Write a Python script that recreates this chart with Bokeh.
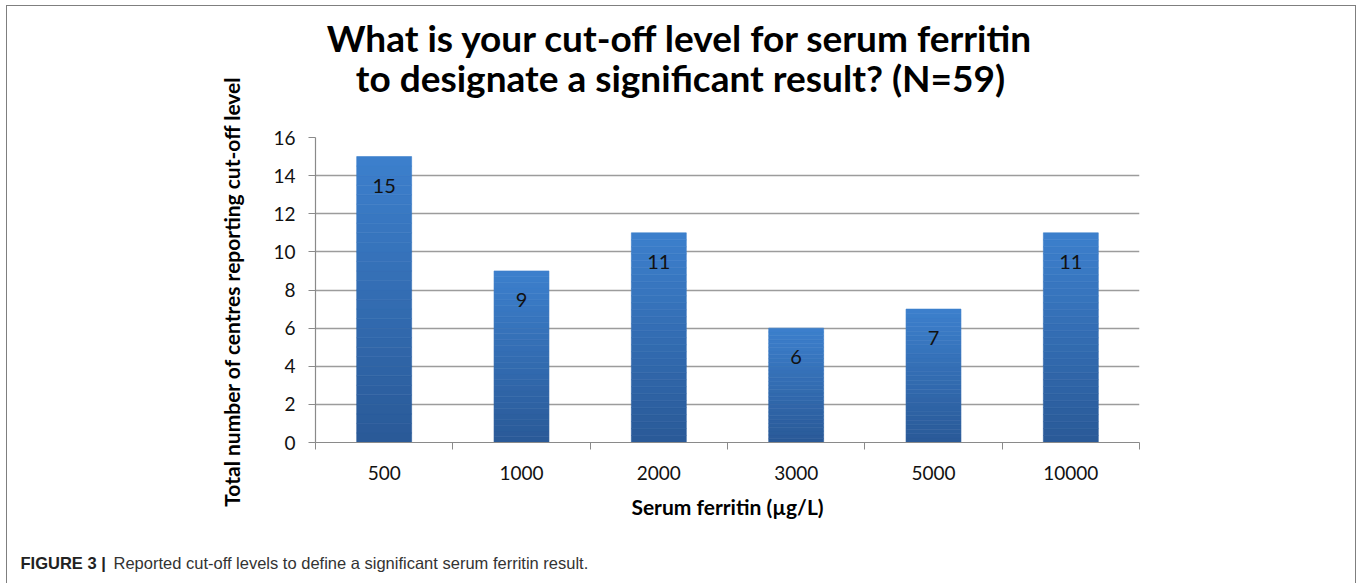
import math
from bokeh.plotting import figure
from bokeh.layouts import column, row
from bokeh.models import FixedTicker, ColumnDataSource
from bokeh.core.properties import value
from bokeh.embed import file_html
from bokeh.resources import INLINE

# ---- data ----
categories = ["500", "1000", "2000", "3000", "5000", "10000"]
counts = [15, 9, 11, 6, 7, 11]
y_ticks = [0, 2, 4, 6, 8, 10, 12, 14, 16]

title_lines = ["What is your cut-off level for serum ferritin",
               "to designate a significant result? (N=59)"]
x_label = "Serum ferritin (µg/L)"
y_label = "Total number of centres reporting cut-off level"
caption_bold = "FIGURE 3 |"
caption_text = "Reported cut-off levels to define a significant serum ferritin result."

# ---- layout ----
W = 1348
LEFT_W = 248
RIGHT_W = W - LEFT_W
H_TITLE, H_MAIN, H_CAP = 100, 420, 57
FONT = "Lato"


def text_panel(width, height):
    f = figure(width=width, height=height, x_range=(0, width), y_range=(0, height),
               x_axis_location=None, y_axis_location=None, title=None,
               output_backend="svg", toolbar_location=None, frame_align=False,
               min_border_left=0, min_border_right=0,
               min_border_top=0, min_border_bottom=0)
    f.grid.visible = False
    f.outline_line_color = None
    f.border_fill_color = "white"
    f.background_fill_color = "white"
    return f


# y-axis title panel (left)
py = text_panel(LEFT_W, H_TITLE + H_MAIN)
py.text(x=[224], y=[235], text=[y_label], angle=math.pi / 2,
        text_align="center", text_baseline="middle",
        text_font=value(FONT), text_font_size="21px", text_font_style="bold",
        text_color="#000000")

# chart title panel
pt = text_panel(RIGHT_W, H_TITLE)
pt.text(x=[425, 425], y=[69, 29], text=title_lines,
        text_align="center", text_baseline="middle",
        text_font=value(FONT), text_font_size="37px", text_font_style="bold",
        text_color="#000000")

# main chart
positions = list(range(len(categories)))
boundaries = [i - 0.5 for i in range(len(categories) + 1)]

p = figure(width=RIGHT_W, height=H_MAIN, title=None,
           x_range=(-0.5, len(categories) - 0.5), y_range=(0, 16),
           output_backend="svg", toolbar_location=None, frame_align=False,
           min_border_left=60, min_border_right=216,
           min_border_top=31, min_border_bottom=H_MAIN - 336)
p.outline_line_color = None
p.background_fill_color = "white"
p.border_fill_color = "white"

# gradient bars built as thin stacked slices of each bar
N = 30
top_rgb = (60, 127, 204)
bot_rgb = (42, 90, 152)
xs, bots, tops, cols = [], [], [], []
for xi, c in zip(positions, counts):
    for k in range(N):
        f = k / (N - 1)
        r = round(bot_rgb[0] + (top_rgb[0] - bot_rgb[0]) * f)
        g = round(bot_rgb[1] + (top_rgb[1] - bot_rgb[1]) * f)
        b = round(bot_rgb[2] + (top_rgb[2] - bot_rgb[2]) * f)
        xs.append(xi)
        bots.append(c * k / N)
        tops.append(c * (k + 1) / N)
        cols.append("#%02x%02x%02x" % (r, g, b))
p.vbar(x=xs, bottom=bots, top=tops, width=0.4, fill_color=cols,
       line_color=cols, line_width=0.6)

src = ColumnDataSource(dict(x=positions, y=counts, label=[str(c) for c in counts]))
p.text(x="x", y="y", text="label", source=src, y_offset=29,
       text_align="center", text_baseline="middle",
       text_font=value(FONT), text_font_size="20px", text_color="#111111")

# axes
p.xaxis.ticker = FixedTicker(ticks=positions, minor_ticks=boundaries)
p.xaxis.major_label_overrides = {float(i): c for i, c in enumerate(categories)}
p.xaxis.major_tick_out = 0
p.xaxis.major_tick_in = 0
p.xaxis.minor_tick_out = 7
p.xaxis.minor_tick_in = 0
p.xaxis.minor_tick_line_color = "#8a8a8a"
p.xaxis.major_label_standoff = 16
p.xaxis.axis_label = x_label
p.xaxis.axis_label_standoff = 11

p.yaxis.ticker = FixedTicker(ticks=y_ticks, minor_ticks=[])
p.yaxis.major_tick_out = 7
p.yaxis.major_tick_in = 0
p.yaxis.minor_tick_out = 0
p.yaxis.minor_tick_in = 0
p.yaxis.major_tick_line_color = "#8a8a8a"
p.yaxis.major_label_standoff = 13

for ax in (p.xaxis[0], p.yaxis[0]):
    ax.axis_line_color = "#8a8a8a"
    ax.axis_line_width = 1.2
    ax.major_label_text_font = FONT
    ax.major_label_text_font_size = "19px"
    ax.major_label_text_color = "#111111"
    ax.axis_label_text_font = FONT
    ax.axis_label_text_font_style = "bold"
    ax.axis_label_text_color = "#000000"
p.xaxis.axis_label_text_font_size = "21px"

p.xgrid.visible = False
p.ygrid.ticker = FixedTicker(ticks=y_ticks)
p.ygrid.grid_line_color = "#9c9c9c"
p.ygrid.grid_line_width = 1.3

# caption panel
pc = text_panel(W, H_CAP)
pc.text(x=[13], y=[21], text=[caption_bold], text_align="left",
        text_baseline="middle", text_font=value("Liberation Sans"),
        text_font_size="16.5px", text_font_style="bold", text_color="#222222")
pc.text(x=[106], y=[21], text=[caption_text], text_align="left",
        text_baseline="middle", text_font=value("Liberation Sans"),
        text_font_size="16.5px", text_color="#333333")

layout = column(row(py, column(pt, p, spacing=0), spacing=0), pc, spacing=0)
layout.styles = {"margin-left": "6px", "margin-top": "5px",
                 "border-top": "1px solid #7f7f7f",
                 "border-left": "1px solid #7f7f7f",
                 "border-right": "1px solid #7f7f7f"}

open("out.html", "w").write(file_html(layout, INLINE))
